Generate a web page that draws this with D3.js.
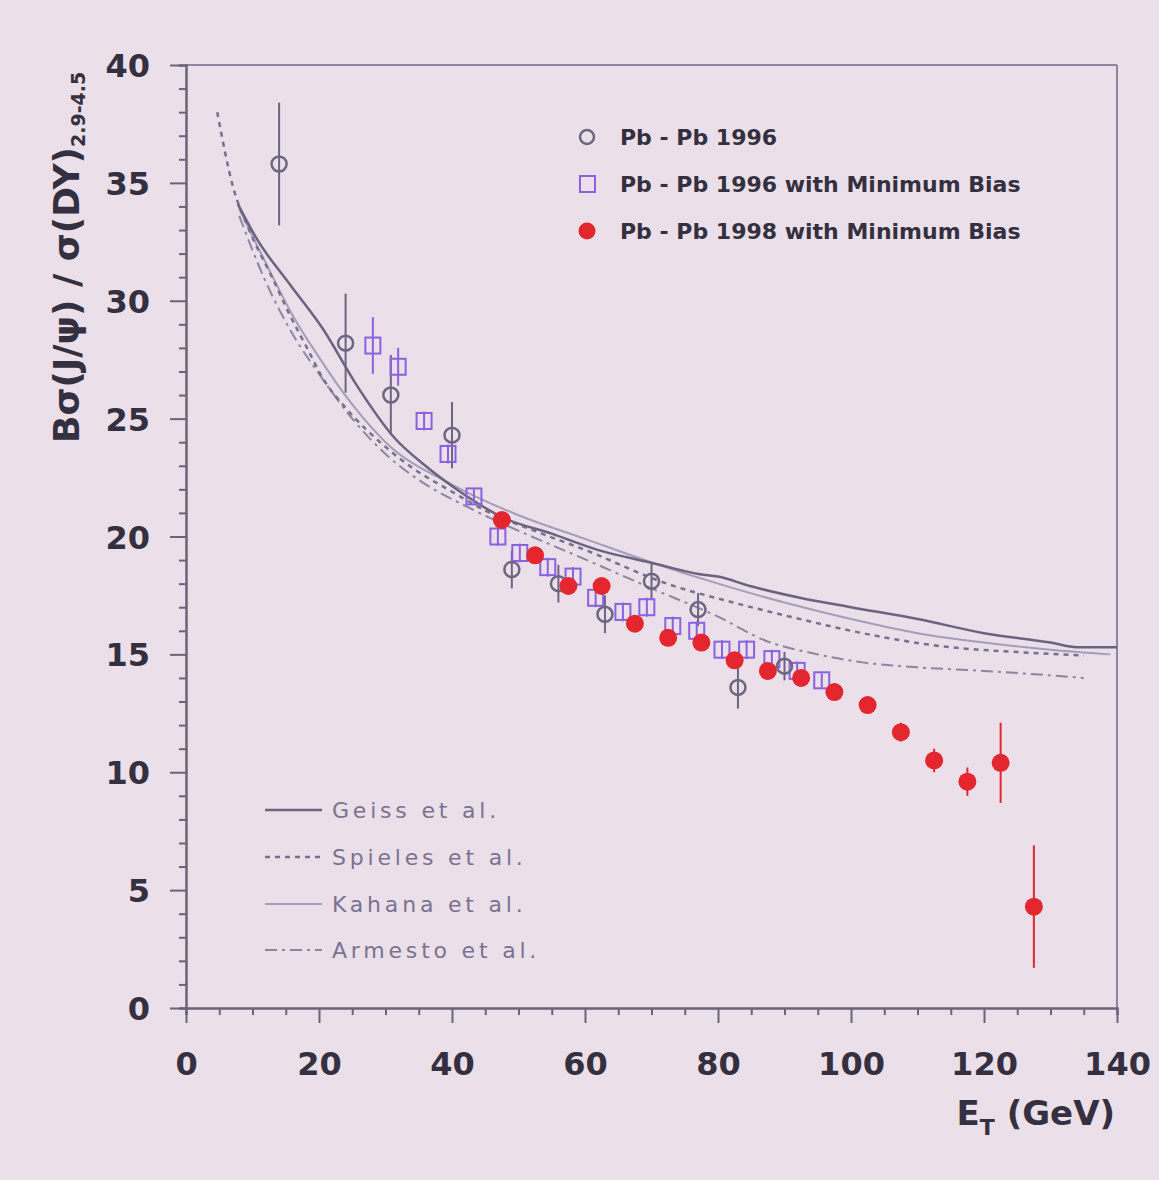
<!DOCTYPE html>
<html>
<head>
<meta charset="utf-8">
<script src="https://cdn.jsdelivr.net/npm/d3@7"></script>
<style>
  html, body { margin: 0; padding: 0; background: #ebdfe9; }
  svg { display: block; }
</style>
</head>
<body>
<svg id="chart" width="1159" height="1180"></svg>
<script>
// Pb-Pb 1996 (open circles)
const pb96X   = [14, 24, 30.8, 40, 49, 56, 63, 70, 77, 83, 90];
const pb96Y   = [35.8, 28.2, 26.0, 24.3, 18.6, 18.0, 16.7, 18.1, 16.9, 13.6, 14.5];
const pb96Err = [2.6, 2.1, 1.7, 1.4, 0.8, 0.8, 0.8, 0.8, 0.7, 0.9, 0.6];

// Pb-Pb 1996 with Minimum Bias (open squares)
const mb96X   = [28.1, 31.9, 35.8, 39.4, 43.3, 46.9, 50.2, 54.4, 58.2, 61.6, 65.7, 69.3, 73.2, 76.8, 80.6, 84.3, 88.1, 91.9, 95.6];
const mb96Y   = [28.1, 27.2, 24.9, 23.5, 21.7, 20.0, 19.3, 18.7, 18.3, 17.4, 16.8, 17.0, 16.2, 16.0, 15.2, 15.2, 14.8, 14.3, 13.9];
const mb96Err = [1.2, 0.8, 0.4, 0.4, 0.3, 0.4, 0.4, 0.4, 0.4, 0.4, 0.4, 0.4, 0.4, 0.4, 0.4, 0.4, 0.4, 0.4, 0.3];

// Pb-Pb 1998 with Minimum Bias (filled circles)
const mb98X   = [47.5, 52.5, 57.5, 62.5, 67.5, 72.5, 77.5, 82.5, 87.5, 92.5, 97.5, 102.5, 107.5, 112.5, 117.5, 122.5, 127.5];
const mb98Y   = [20.7, 19.2, 17.9, 17.9, 16.3, 15.7, 15.5, 14.75, 14.3, 14.0, 13.4, 12.85, 11.7, 10.5, 9.6, 10.4, 4.3];
const mb98Err = [0.3, 0.3, 0.3, 0.3, 0.3, 0.3, 0.3, 0.3, 0.3, 0.3, 0.3, 0.3, 0.4, 0.5, 0.6, 1.7, 2.6];

// Model curves [E_T, ratio]
const geissCurve = [[7.8,34.1],[10.7,32.6],[15.6,30.7],[20.6,28.8],[25.7,26.4],[31.3,24.2],[36,23.0],[40.2,22.1],[47.7,20.8],[55.2,20.1],[62.3,19.4],[69.8,18.9],[77.3,18.4],[80,18.3],[84.8,17.9],[92.3,17.4],[100,17.0],[110,16.5],[120,15.9],[130,15.5],[134,15.3],[140,15.3]];
const spielesCurve = [[4.7,38.0],[7.1,34.8],[9.2,33.2],[13.1,30.9],[15.6,29.4],[18.2,28.0],[20.6,26.7],[24.2,25.4],[30,23.8],[34.1,22.9],[40,21.9],[45,21.1],[52.8,20.2],[60.3,19.4],[72.3,18.0],[82.3,17.2],[92.3,16.5],[100,16.0],[115,15.3],[125,15.1],[135,14.95]];
const kahanaCurve = [[8,33.9],[12,31.6],[16,29.4],[20,27.6],[25,25.6],[30,24.0],[40,22.2],[50,20.9],[60,19.9],[70,18.9],[80,18.0],[90,17.2],[100,16.5],[110,15.9],[120,15.5],[130,15.2],[139,15.0]];
const armestoCurve = [[8,33.6],[12,30.8],[16,28.6],[20,26.9],[25,25.0],[30,23.5],[35,22.4],[42.7,21.2],[52.8,19.9],[60.3,19.0],[70,17.8],[80,16.6],[87,15.6],[95,15.0],[102,14.65],[110,14.45],[120,14.3],[135,14.0]];

const xTicks = [0, 20, 40, 60, 80, 100, 120, 140];
const yTicks = [0, 5, 10, 15, 20, 25, 30, 35, 40];

const dataLegend = ["Pb - Pb 1996", "Pb - Pb 1996 with Minimum Bias", "Pb - Pb 1998 with Minimum Bias"];
const modelLegend = ["Geiss et al.", "Spieles et al.", "Kahana et al.", "Armesto et al."];

const svg = d3.select("#chart");
const plotL = 186, plotR = 1117, plotT = 65, plotB = 1008;
const x = d3.scaleLinear().domain([0, 140]).range([plotL, plotR]);
const y = d3.scaleLinear().domain([0, 40]).range([plotB, plotT]);

const axisCol = "#6a6479";
const textCol = "#34303f";
const circCol = "#6d6680";
const sqCol = "#8a62e0";
const redCol = "#e4262f";

svg.append("rect").attr("width", 1159).attr("height", 1180).attr("fill", "#ebdfe9");

// frame top/right
svg.append("line").attr("x1", plotL).attr("x2", plotR).attr("y1", plotT).attr("y2", plotT)
  .attr("stroke", "#8c85a0").attr("stroke-width", 2);
svg.append("line").attr("x1", plotR).attr("x2", plotR).attr("y1", plotT).attr("y2", plotB)
  .attr("stroke", "#8c85a0").attr("stroke-width", 2);

// axes
const xAxis = svg.append("g").attr("transform", `translate(0,${plotB})`)
  .call(d3.axisBottom(x).tickValues(d3.range(0, 141, 5)).tickSize(7).tickFormat(""));
xAxis.selectAll(".tick line").filter(d => d % 20 === 0).attr("y2", 15);
const xLab = svg.append("g").attr("transform", `translate(0,${plotB})`)
  .call(d3.axisBottom(x).tickValues(xTicks).tickSize(0).tickPadding(44));
xLab.select(".domain").remove();

const yAxis = svg.append("g").attr("transform", `translate(${plotL},0)`)
  .call(d3.axisLeft(y).tickValues(d3.range(0, 41, 1)).tickSize(7).tickFormat(""));
yAxis.selectAll(".tick line").filter(d => d % 5 === 0).attr("x2", -16);
const yLab = svg.append("g").attr("transform", `translate(${plotL},0)`)
  .call(d3.axisLeft(y).tickValues(yTicks).tickSize(0).tickPadding(36));
yLab.select(".domain").remove();

[xAxis, yAxis].forEach(g => {
  g.select(".domain").attr("stroke", axisCol).attr("stroke-width", 2.5);
  g.selectAll(".tick line").attr("stroke", axisCol).attr("stroke-width", 2);
});
[xLab, yLab].forEach(g => {
  g.selectAll("text").attr("fill", textCol).style("font-family", "DejaVu Sans")
    .style("font-weight", "bold").style("font-size", "32px");
});
yLab.selectAll("text").attr("dy", "0.36em");

// axis titles
const xt = svg.append("text").attr("x", 1115).attr("y", 1125).attr("text-anchor", "end")
  .attr("fill", textCol).style("font-family", "DejaVu Sans").style("font-weight", "bold").style("font-size", "34px");
xt.append("tspan").text("E");
xt.append("tspan").attr("dy", 10).style("font-size", "22px").text("T");
xt.append("tspan").attr("dy", -10).text(" (GeV)");

const yt = svg.append("text").attr("transform", "translate(79,443) rotate(-90)")
  .attr("fill", textCol).style("font-family", "DejaVu Sans").style("font-weight", "bold").style("font-size", "36px");
yt.append("tspan").text("Bσ(J/ψ) / σ(DY)");
yt.append("tspan").attr("dy", 6).style("font-size", "19px").text("2.9-4.5");

// model curves
const line = d3.line().x(d => x(d[0])).y(d => y(d[1])).curve(d3.curveMonotoneX);
const models = [
  { data: kahanaCurve, stroke: "#a59dba", dash: null, w: 2 },
  { data: armestoCurve, stroke: "#8c86a2", dash: "12,5,3,5", w: 2 },
  { data: spielesCurve, stroke: "#777190", dash: "5,5", w: 2.5 },
  { data: geissCurve, stroke: "#6a6480", dash: null, w: 2.5 }
];
models.forEach(m => {
  svg.append("path").attr("d", line(m.data)).attr("fill", "none")
    .attr("stroke", m.stroke).attr("stroke-width", m.w)
    .attr("stroke-dasharray", m.dash);
});

// error bars helper
function errBars(xs, ys, es, col) {
  svg.append("g").selectAll("line").data(xs).join("line")
    .attr("x1", d => x(d)).attr("x2", d => x(d))
    .attr("y1", (d, i) => y(ys[i] + es[i])).attr("y2", (d, i) => y(ys[i] - es[i]))
    .attr("stroke", col).attr("stroke-width", 2);
}

errBars(pb96X, pb96Y, pb96Err, circCol);
errBars(mb96X, mb96Y, mb96Err, sqCol);
errBars(mb98X, mb98Y, mb98Err, redCol);

// squares
svg.append("g").selectAll("rect").data(mb96X).join("rect")
  .attr("x", d => x(d) - 7.5).attr("y", (d, i) => y(mb96Y[i]) - 8)
  .attr("width", 15).attr("height", 16)
  .attr("fill", "none").attr("stroke", sqCol).attr("stroke-width", 2);

// open circles
svg.append("g").selectAll("circle").data(pb96X).join("circle")
  .attr("cx", d => x(d)).attr("cy", (d, i) => y(pb96Y[i])).attr("r", 7.5)
  .attr("fill", "none").attr("stroke", circCol).attr("stroke-width", 2.5);

// filled circles
svg.append("g").selectAll("circle").data(mb98X).join("circle")
  .attr("cx", d => x(d)).attr("cy", (d, i) => y(mb98Y[i])).attr("r", 9)
  .attr("fill", redCol);

// data legend
const legRows = [137, 184, 231];
svg.append("circle").attr("cx", 587).attr("cy", legRows[0]).attr("r", 7)
  .attr("fill", "none").attr("stroke", circCol).attr("stroke-width", 2.5);
svg.append("rect").attr("x", 580).attr("y", legRows[1] - 8).attr("width", 15).attr("height", 16)
  .attr("fill", "none").attr("stroke", sqCol).attr("stroke-width", 2);
svg.append("circle").attr("cx", 587).attr("cy", legRows[2]).attr("r", 8.5).attr("fill", redCol);
svg.append("g").selectAll("text").data(dataLegend).join("text")
  .attr("x", 620).attr("y", (d, i) => legRows[i] + 8)
  .attr("fill", textCol).style("font-family", "DejaVu Sans").style("font-weight", "bold")
  .style("font-size", "22px").text(d => d);

// model legend
const modRows = [810, 857, 904, 950];
const legendOrder = [geissCurve, spielesCurve, kahanaCurve, armestoCurve];
legendOrder.forEach((ref, i) => {
  const mm = models.find(q => q.data === ref);
  svg.append("line").attr("x1", 265).attr("x2", 322).attr("y1", modRows[i]).attr("y2", modRows[i])
    .attr("stroke", mm.stroke).attr("stroke-width", mm.w).attr("stroke-dasharray", mm.dash);
});
svg.append("g").selectAll("text").data(modelLegend).join("text")
  .attr("x", 332).attr("y", (d, i) => modRows[i] + 8)
  .attr("fill", "#7a7390").style("font-family", "DejaVu Sans")
  .style("font-size", "22px").style("letter-spacing", "3.8px").text(d => d);
</script>
</body>
</html>
